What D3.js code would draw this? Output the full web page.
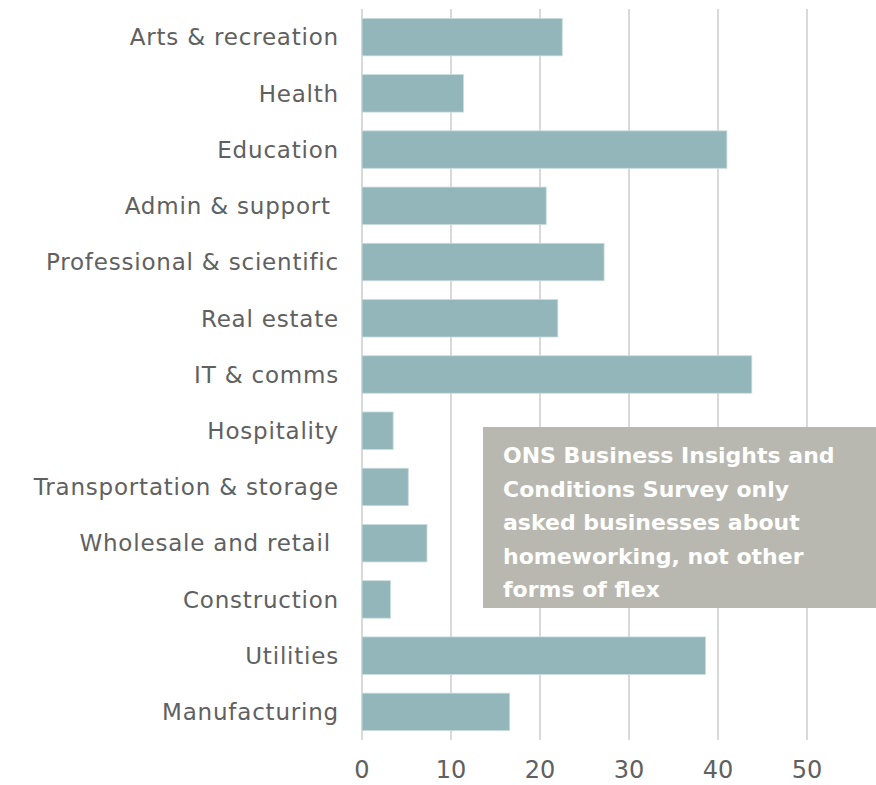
<!DOCTYPE html>
<html><head><meta charset="utf-8">
<script src="https://cdn.jsdelivr.net/npm/d3@7"></script>
<style>
body{margin:0;background:#fff;}
text{font-family:"DejaVu Sans",sans-serif;white-space:pre;}
</style></head>
<body><svg id="c" width="876" height="785"></svg>
<script>
const categories = ["Arts & recreation","Health","Education","Admin & support ","Professional & scientific","Real estate","IT & comms","Hospitality","Transportation & storage","Wholesale and retail ","Construction","Utilities","Manufacturing"];
const values = [22.5,11.4,41.0,20.7,27.2,22.0,43.8,3.5,5.2,7.3,3.2,38.6,16.6];
const ticks = [0,10,20,30,40,50];
const noteLines = ["ONS Business Insights and","Conditions Survey only","asked businesses about","homeworking, not other","forms of flex"];

const svg = d3.select("#c");
const x = d3.scaleLinear().domain([0,50]).range([362,807]);
const y = d3.scaleBand().domain(categories).range([9,740]).paddingInner(1/3).paddingOuter(1/6);

svg.append("g").selectAll("line").data(ticks).join("line")
  .attr("x1",d=>x(d)).attr("x2",d=>x(d)).attr("y1",9).attr("y2",740)
  .attr("stroke","#d9d9d9").attr("stroke-width",2);

svg.append("g").selectAll("rect").data(values).join("rect")
  .attr("x",x(0)).attr("y",(d,i)=>y(categories[i]))
  .attr("width",d=>x(d)-x(0)).attr("height",y.bandwidth())
  .attr("fill","#93b6ba").attr("stroke","#c9dcde").attr("stroke-width",0.8);

svg.append("g").selectAll("text").data(categories).join("text")
  .attr("x",339).attr("y",d=>y(d)+y.bandwidth()/2).attr("dy","0.36em")
  .attr("text-anchor","end").attr("fill","#606060").attr("font-size",23)
  .attr("letter-spacing",0.8)
  .text(d=>d);

svg.append("g").selectAll("text").data(ticks).join("text")
  .attr("x",d=>x(d)).attr("y",778).attr("text-anchor","middle")
  .attr("fill","#606060").attr("font-size",24).text(d=>d);

svg.append("rect").attr("x",483).attr("y",427).attr("width",393).attr("height",181).attr("fill","#b8b8b0");
svg.append("g").selectAll("text").data(noteLines).join("text")
  .attr("x",503).attr("y",(d,i)=>463+i*33.5).attr("fill","#fff")
  .attr("font-size",22).attr("font-weight","bold").text(d=>d);
</script></body></html>
